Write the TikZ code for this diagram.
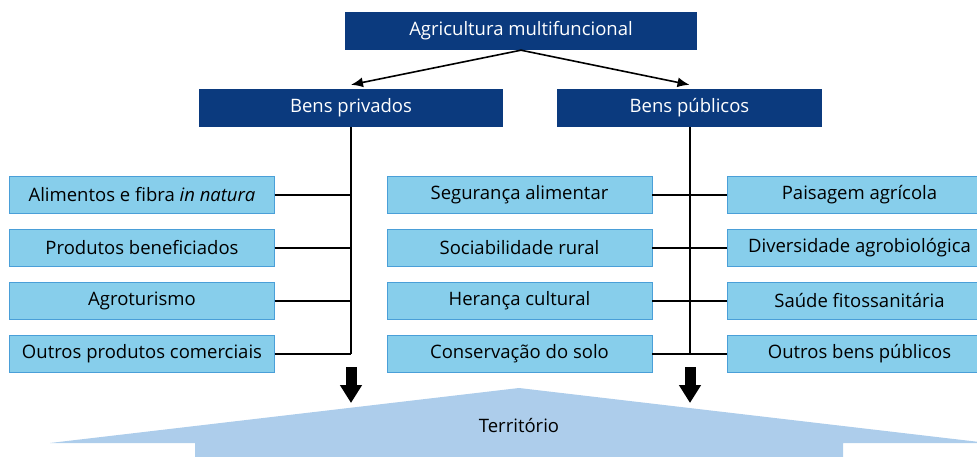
\documentclass[tikz,border=0pt]{standalone}
\usepackage{fontspec}
\setmainfont{Open Sans}
\usepackage{xcolor}
\usetikzlibrary{positioning,arrows.meta}
\definecolor{NavyBox}{HTML}{0B3A7E}
\definecolor{SkyBox}{HTML}{87CEEB}
\definecolor{SkyEdge}{HTML}{4A9FD8}
\definecolor{TerraBlue}{HTML}{ADCDEB}

\begin{document}
\begin{tikzpicture}[x=1pt, y=-1pt,
    every node/.style={align=center, inner sep=0pt, font=\fontsize{18.5}{22}\selectfont},
    headbox/.style={fill=NavyBox, text=white, minimum height=38pt},
    itembox/.style={draw=SkyEdge, fill=SkyBox, minimum width=265pt, minimum height=37pt},
    link/.style={line width=2pt},
    bigarrow/.style={line width=11pt, -{Triangle[length=18pt, width=21pt]}}]
      \useasboundingbox (0,0) rectangle (977,457);
      % Territory
      \fill[TerraBlue] (50,443) -- (519,388) -- (988,443) -- (843,443) -- (843,457)
        -- (195,457) -- (195,443) -- cycle;
      \node (terr) at (519,426) {Território};
      % Nodes
      \node[headbox, minimum width=352pt] (agri) at (521,31) {Agricultura multifuncional};
      \node[headbox, minimum width=304pt] (priv) at (351,108) {Bens privados};
      \node[headbox, minimum width=265pt] (pub) at (689.5,108) {Bens públicos};
      \node[itembox] (alim) at (142,195) {Alimentos e fibra \textit{in natura}};
      \node[itembox] (prod) at (142,248) {Produtos beneficiados};
      \node[itembox] (agro) at (142,301) {Agroturismo};
      \node[itembox] (outp) at (142,353.5) {Outros produtos comerciais};
      \node[itembox] (segu) at (519.5,195) {Segurança alimentar};
      \node[itembox] (soci) at (519.5,248) {Sociabilidade rural};
      \node[itembox] (hera) at (519.5,301) {Herança cultural};
      \node[itembox] (cons) at (519.5,353.5) {Conservação do solo};
      \node[itembox] (pais) at (859.5,195) {Paisagem agrícola};
      \node[itembox] (dive) at (859.5,248) {Diversidade agrobiológica};
      \node[itembox] (saud) at (859.5,301) {Saúde fitossanitária};
      \node[itembox] (outb) at (859.5,353.5) {Outros bens públicos};
      \coordinate (privtop) at (351,367);
      \coordinate (privend) at (351,403);
      \coordinate (pubtop) at (690,367);
      \coordinate (pubend) at (690,403);
      % Arrows
      \draw[line width=1.6pt, -{Latex[length=12pt, width=10pt]}] (agri.south) -- ([yshift=4pt]priv.north);
      \draw[line width=1.6pt, -{Latex[length=12pt, width=10pt]}] (agri.south) -- ([yshift=4pt]pub.north);
      \draw[link] (priv.south) -- (priv.south |- outp.east);
      \draw[link] (alim.east) -- (alim.east -| priv.south);
      \draw[link] (prod.east) -- (prod.east -| priv.south);
      \draw[link] (agro.east) -- (agro.east -| priv.south);
      \draw[link] (outp.east) -- (outp.east -| priv.south);
      \draw[link] (pub.south) -- (pub.south |- cons.east);
      \draw[link] (segu.east) -- (pais.west);
      \draw[link] (soci.east) -- (dive.west);
      \draw[link] (hera.east) -- (saud.west);
      \draw[link] (cons.east) -- (outb.west);
      \draw[bigarrow] (privtop) -- (privend);
      \draw[bigarrow] (pubtop) -- (pubend);
    \end{tikzpicture}
\end{document}
